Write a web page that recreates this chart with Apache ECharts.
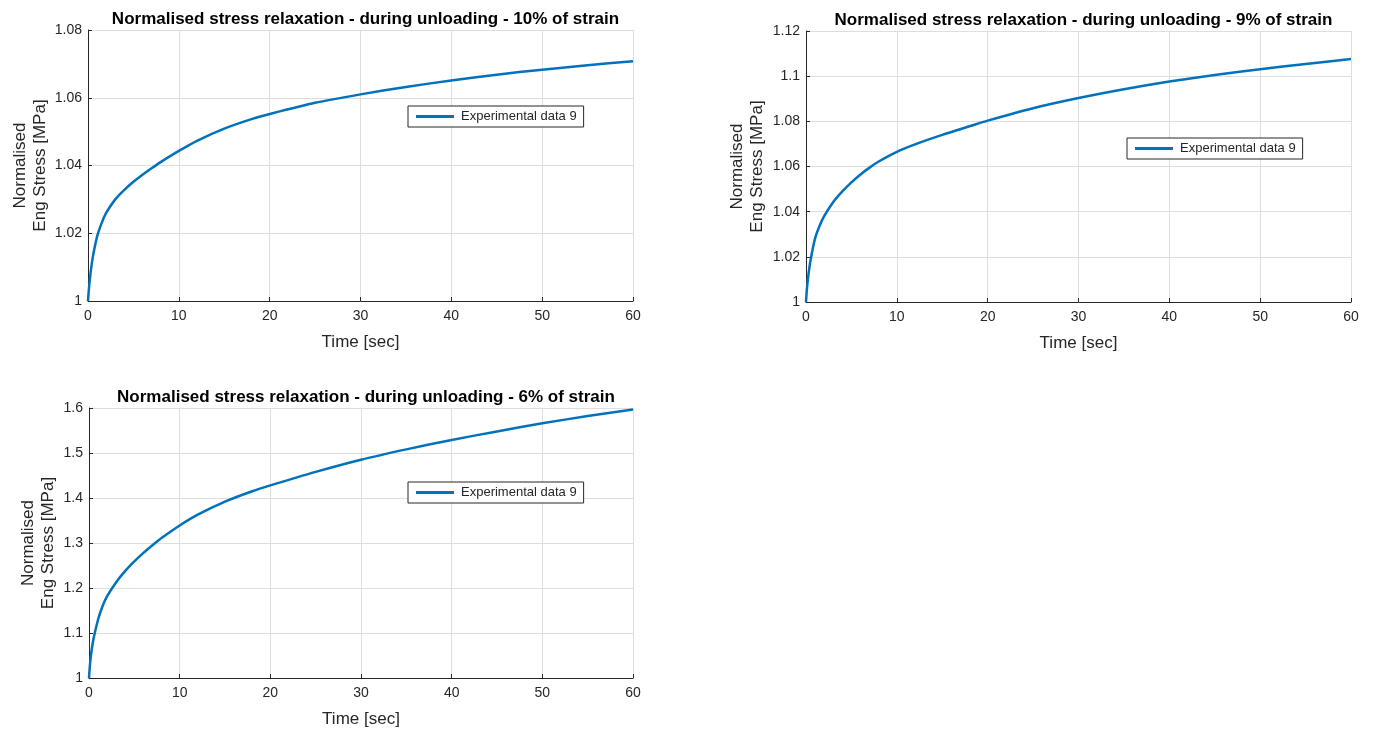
<!DOCTYPE html>
<html><head><meta charset="utf-8">
<script src="https://cdn.jsdelivr.net/npm/echarts@6/dist/echarts.min.js"></script>
<style>html,body{margin:0;padding:0;background:#fff}#c{width:1379px;height:729px}</style>
</head><body><div id="c"></div>
<script>
const times = [0, 0.1, 0.25, 0.5, 1, 1.5, 2, 3, 4, 5, 6, 7, 8, 10, 12, 15, 18, 20, 25, 30, 35, 40, 45, 50, 55, 60];
const strain10 = [1.0, 1.0035, 1.0075, 1.0125, 1.0190, 1.0230, 1.0260, 1.0300, 1.0328, 1.0352, 1.0373, 1.0392, 1.0410, 1.0443, 1.0473, 1.0509, 1.0537, 1.0552, 1.0585, 1.0610, 1.0632, 1.0651, 1.0668, 1.0683, 1.0696, 1.0708];
const strain9 = [1.0, 1.0058, 1.0115, 1.0185, 1.0282, 1.0338, 1.0380, 1.0443, 1.0490, 1.0530, 1.0565, 1.0595, 1.0622, 1.0665, 1.0698, 1.0740, 1.0778, 1.0803, 1.0858, 1.0903, 1.0942, 1.0976, 1.1005, 1.1031, 1.1054, 1.1076];
const strain6 = [1.0, 1.028, 1.056, 1.087, 1.13, 1.16, 1.182, 1.213, 1.238, 1.259, 1.278, 1.295, 1.311, 1.339, 1.363, 1.392, 1.415, 1.428, 1.458, 1.485, 1.508, 1.529, 1.548, 1.566, 1.582, 1.5965];
const titles = [
  'Normalised stress relaxation - during unloading - 10% of strain',
  'Normalised stress relaxation - during unloading - 9% of strain',
  'Normalised stress relaxation - during unloading - 6% of strain'
];
const seriesName = 'Experimental data 9';
const xName = 'Time [sec]';
const yName = 'Normalised\nEng Stress [MPa]';
const yRanges = [[1, 1.08, 0.02], [1, 1.12, 0.02], [1, 1.6, 0.1]];

const FONT = '"Liberation Sans", Arial, sans-serif';
const TXT = '#262626';
const LINE = '#0072BD';
const grids = [
  {left: 88, top: 30, width: 545, height: 271},
  {left: 806, top: 31, width: 545, height: 271},
  {left: 89, top: 408, width: 544, height: 271}
];
const nameGaps = [38, 39, 31];
const legendPos = [
  {left: 408, top: 106},
  {left: 1127, top: 138},
  {left: 408, top: 482}
];
const datasets = [strain10, strain9, strain6];

const option = {
  animation: false,
  backgroundColor: '#fff',
  textStyle: {fontFamily: FONT},
  title: grids.map((g, i) => ({
    text: titles[i],
    left: g.left + g.width / 2,
    textAlign: 'center',
    top: g.top - 24,
    textStyle: {fontFamily: FONT, fontSize: 17, fontWeight: 'bold', color: '#000'}
  })),
  legend: legendPos.map((p, i) => ({
    left: p.left, top: p.top,
    data: [seriesName],
    icon: 'rect',
    itemWidth: 38, itemHeight: 3,
    itemGap: 4,
    padding: [4, 7, 4, 8],
    borderColor: '#262626', borderWidth: 1, borderRadius: 0,
    backgroundColor: '#fff',
    selectedMode: false,
    textStyle: {fontFamily: FONT, fontSize: 13, color: TXT, padding: [0, 0, 0, 2]}
  })),
  grid: grids,
  xAxis: grids.map((g, i) => ({
    type: 'value', gridIndex: i, min: 0, max: 60, interval: 10,
    name: xName, nameLocation: 'middle', nameGap: 33,
    nameTextStyle: {fontFamily: FONT, fontSize: 17, color: TXT},
    axisLine: {show: true, lineStyle: {color: TXT, width: 1}},
    axisTick: {show: true, inside: true, length: 4, lineStyle: {color: TXT}},
    axisLabel: {fontFamily: FONT, fontSize: 14, color: TXT, margin: 8},
    splitLine: {show: true, lineStyle: {color: '#dedede', width: 1}}
  })),
  yAxis: grids.map((g, i) => ({
    type: 'value', gridIndex: i, min: yRanges[i][0], max: yRanges[i][1], interval: yRanges[i][2],
    name: yName, nameLocation: 'middle', nameGap: nameGaps[i], nameRotate: 90,
    nameTextStyle: {fontFamily: FONT, fontSize: 17, color: TXT, lineHeight: 20},
    axisLine: {show: true, lineStyle: {color: TXT, width: 1}},
    axisTick: {show: true, inside: true, length: 4, lineStyle: {color: TXT}},
    axisLabel: {fontFamily: FONT, fontSize: 14, color: TXT, margin: 6,
      formatter: v => String(parseFloat(v.toFixed(2)))},
    splitLine: {show: true, lineStyle: {color: '#dedede', width: 1}}
  })),
  series: datasets.map((d, i) => ({
    name: seriesName, type: 'line', xAxisIndex: i, yAxisIndex: i,
    data: times.map((t, k) => [t, d[k]]),
    smooth: 0.25, showSymbol: false, symbol: 'none',
    lineStyle: {color: LINE, width: 2.5}, itemStyle: {color: LINE}
  }))
};
echarts.init(document.getElementById('c')).setOption(option);
</script></body></html>
